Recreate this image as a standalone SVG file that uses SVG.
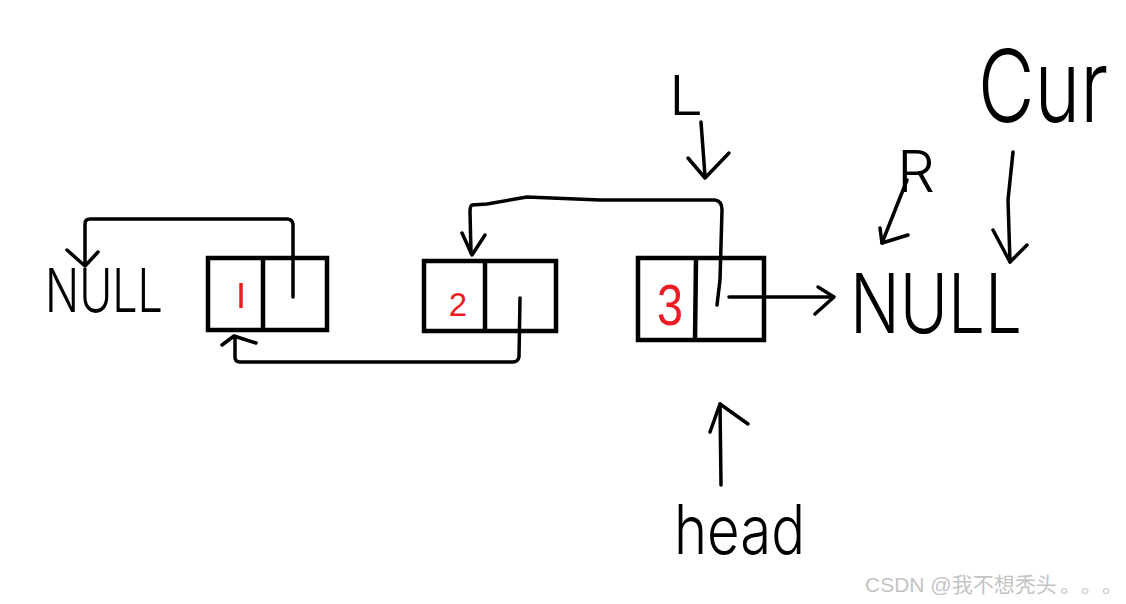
<svg xmlns="http://www.w3.org/2000/svg" width="1126" height="604" viewBox="0 0 1126 604">
<style>
.box{fill:none;stroke:#000;stroke-width:4.5}
.ln{fill:none;stroke:#000;stroke-width:3.5;stroke-linecap:round;stroke-linejoin:round}
.hw{font-family:Inter,"Liberation Sans",Arial,sans-serif;font-weight:300;fill:#000}
.num{font-family:"Liberation Sans",Arial,sans-serif;fill:#ed1c24;text-anchor:middle}
.wm{font-family:"Liberation Sans","Noto Sans CJK SC",sans-serif;font-size:21px;fill:#c4c4c4}
</style>
<rect width="1126" height="604" fill="#fff"/>
<g id="null-left"><text class="hw" x="45" y="312" font-size="60" textLength="118" lengthAdjust="spacingAndGlyphs">NULL</text></g>
<g id="node1">
<rect class="box" x="208" y="258" width="119" height="72"/>
<line class="box" x1="263" y1="258" x2="263" y2="330"/>
<line x1="241" y1="283" x2="241" y2="308" stroke="#ed1c24" stroke-width="3.5"/>
</g>
<g id="node2">
<rect class="box" x="424" y="261" width="132" height="70"/>
<line class="box" x1="485" y1="261" x2="485" y2="331"/>
<text class="num" x="458" y="316" font-size="33">2</text>
</g>
<g id="node3">
<rect class="box" x="638" y="258" width="126" height="82"/>
<line class="box" x1="696" y1="258" x2="695" y2="340"/>
<text class="num" x="670" y="325" font-size="58" textLength="26" lengthAdjust="spacingAndGlyphs">3</text>
</g>
<g id="null-right"><text class="hw" x="850" y="333" font-size="82" textLength="172" lengthAdjust="spacingAndGlyphs">NULL</text></g>
<g id="label-L"><text class="hw" x="669" y="115" font-size="55" textLength="34" lengthAdjust="spacingAndGlyphs">L</text></g>
<g id="label-R"><text class="hw" x="897" y="192" font-size="58" textLength="38" lengthAdjust="spacingAndGlyphs">R</text></g>
<g id="label-Cur"><text class="hw" transform="translate(978,122) scale(1,1.14)" x="0" y="0" font-size="88" textLength="130" lengthAdjust="spacingAndGlyphs">Cur</text></g>
<g id="label-head"><text class="hw" x="674" y="554" font-size="68" textLength="131" lengthAdjust="spacingAndGlyphs">head</text></g>
<g id="connectors">
<path class="ln" d="M293,297 L293,224 Q292,219 287,219 L90,219 Q85,219 85,224 L85,265"/>
<path class="ln" d="M67,250 L85,266 L98,252"/>
<path class="ln" d="M520,298 L519,357 Q518,362 513,362 L240,362 Q235,362 235,357 L235,337"/>
<path class="ln" d="M222,345 L234,336 L256,343"/>
<path class="ln" d="M717,305 L720,280 L722,210 Q722,201 715,200 L600,200 L527,197 L487,204 L472,205 Q470,206 470,212 L471,253"/>
<path class="ln" d="M462,233 L472,255 L485,235"/>
<path class="ln" d="M729,297 L833,297"/>
<path class="ln" d="M818,287 L834,297 L815,314"/>
<path class="ln" d="M701,122 L705,176"/>
<path class="ln" d="M688,158 L705,178 L729,153"/>
<path class="ln" d="M907,180 L882,243"/>
<path class="ln" d="M880,228 L882,243 L908,235"/>
<path class="ln" d="M1013,152 L1008,200 L1010,262"/>
<path class="ln" d="M993,230 L1010,262 L1027,245"/>
<path class="ln" d="M721,485 L720,404"/>
<path class="ln" d="M710,432 L720,404 L748,424"/>
</g>
<g id="watermark"><text class="wm" x="865" y="592">CSDN @我不想秃头<tspan x="1060">。</tspan><tspan x="1081">。</tspan><tspan x="1102">。</tspan></text></g>
</svg>
